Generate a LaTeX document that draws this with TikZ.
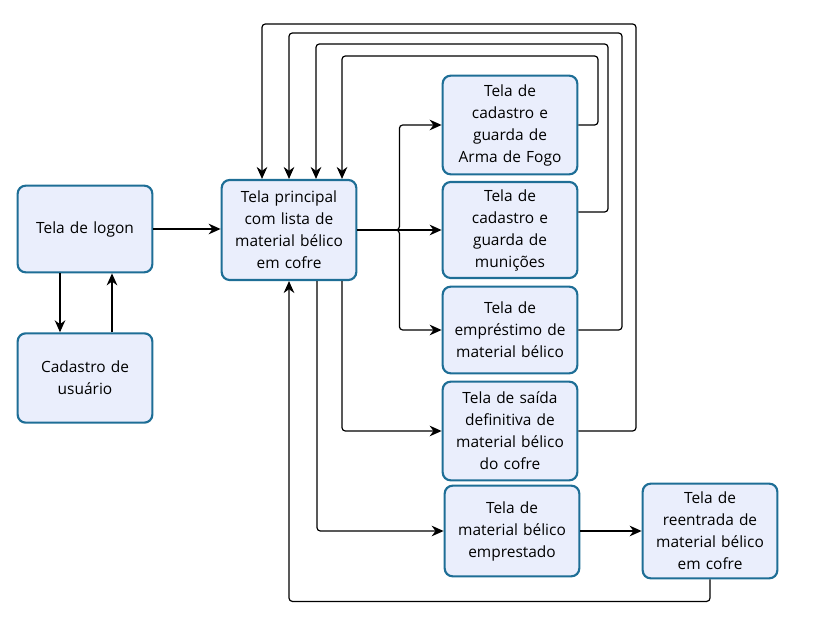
\documentclass[tikz,border=0pt]{standalone}
\usepackage{fontspec}
\setmainfont{Open Sans}
\usepackage{tikz}
\usepackage{xcolor}
\usetikzlibrary{arrows.meta,calc}

\definecolor{telafill}{RGB}{234,238,252}
\definecolor{teladraw}{RGB}{30,110,150}

\tikzset{
  tela/.style={draw=teladraw, fill=telafill, line width=1.6pt, rounded corners=6pt,
    minimum width=101pt, text width=99pt, align=center, inner sep=1pt,
    font=\fontsize{11.6}{16.5}\selectfont},
  seta/.style={draw=black, line width=0.9pt, rounded corners=2.5pt,
    -{Stealth[length=9pt,width=8pt]}},
}

\begin{document}
\begin{tikzpicture}[x=0.75pt,y=-0.75pt]
\useasboundingbox (0,0) rectangle (816,623);
% telas
\node[tela, minimum height=65pt] (logon) at (85,229) {Tela de logon};
\node[tela, minimum height=67pt] (usuario) at (85,378) {Cadastro de\\usuário};
\node[tela, minimum height=75pt] (principal) at (289,230) {Tela principal\\com lista de\\material bélico\\em cofre};
\node[tela, minimum height=74pt] (arma) at (510,125) {Tela de\\cadastro e\\guarda de\\Arma de Fogo};
\node[tela, minimum height=72pt] (municoes) at (510,230) {Tela de\\cadastro e\\guarda de\\munições};
\node[tela, minimum height=65pt] (emprestimo) at (510,330) {Tela de\\empréstimo de\\material bélico};
\node[tela, minimum height=74pt] (saida) at (510,431) {Tela de saída\\definitiva de\\material bélico\\do cofre};
\node[tela, minimum height=68pt] (emprestado) at (512,531) {Tela de\\material bélico\\emprestado};
\node[tela, minimum height=71pt] (reentrada) at (710,531) {Tela de\\reentrada de\\material bélico\\em cofre};

% logon e cadastro
\draw[seta] (logon.east) -- (logon.east -| principal.west);
\draw[seta] ($(logon.south)+(-25,0)$) -- ($(usuario.north)+(-25,0)$);
\draw[seta] ($(usuario.north)+(27,0)$) -- ($(logon.south)+(27,0)$);

% saidas da tela principal
\draw[seta] (principal.east) -- (municoes.west);
\draw[seta] (principal.east) -- ++(42,0) |- (arma.west);
\draw[seta] (principal.east) -- ++(42,0) |- (emprestimo.west);
\draw[seta] ($(principal.south)+(53,0)$) |- (saida.west);
\draw[seta] ($(principal.south)+(28,0)$) |- (emprestado.west);
\draw[seta] (emprestado.east) -- (emprestado.east -| reentrada.west);

% retornos para a tela principal
\draw[seta] (arma.east) -| (598,56) -| ($(principal.north)+(53,0)$);
\draw[seta] ($(municoes.east)+(0,-18)$) -| (608,44) -| ($(principal.north)+(27,0)$);
\draw[seta] (emprestimo.east) -| (622,33) -| (principal.north);
\draw[seta] (saida.east) -| (636,24) -| ($(principal.north)+(-27,0)$);
\draw[seta] (reentrada.south) -- ++(0,22) -| (principal.south);
\end{tikzpicture}
\end{document}
